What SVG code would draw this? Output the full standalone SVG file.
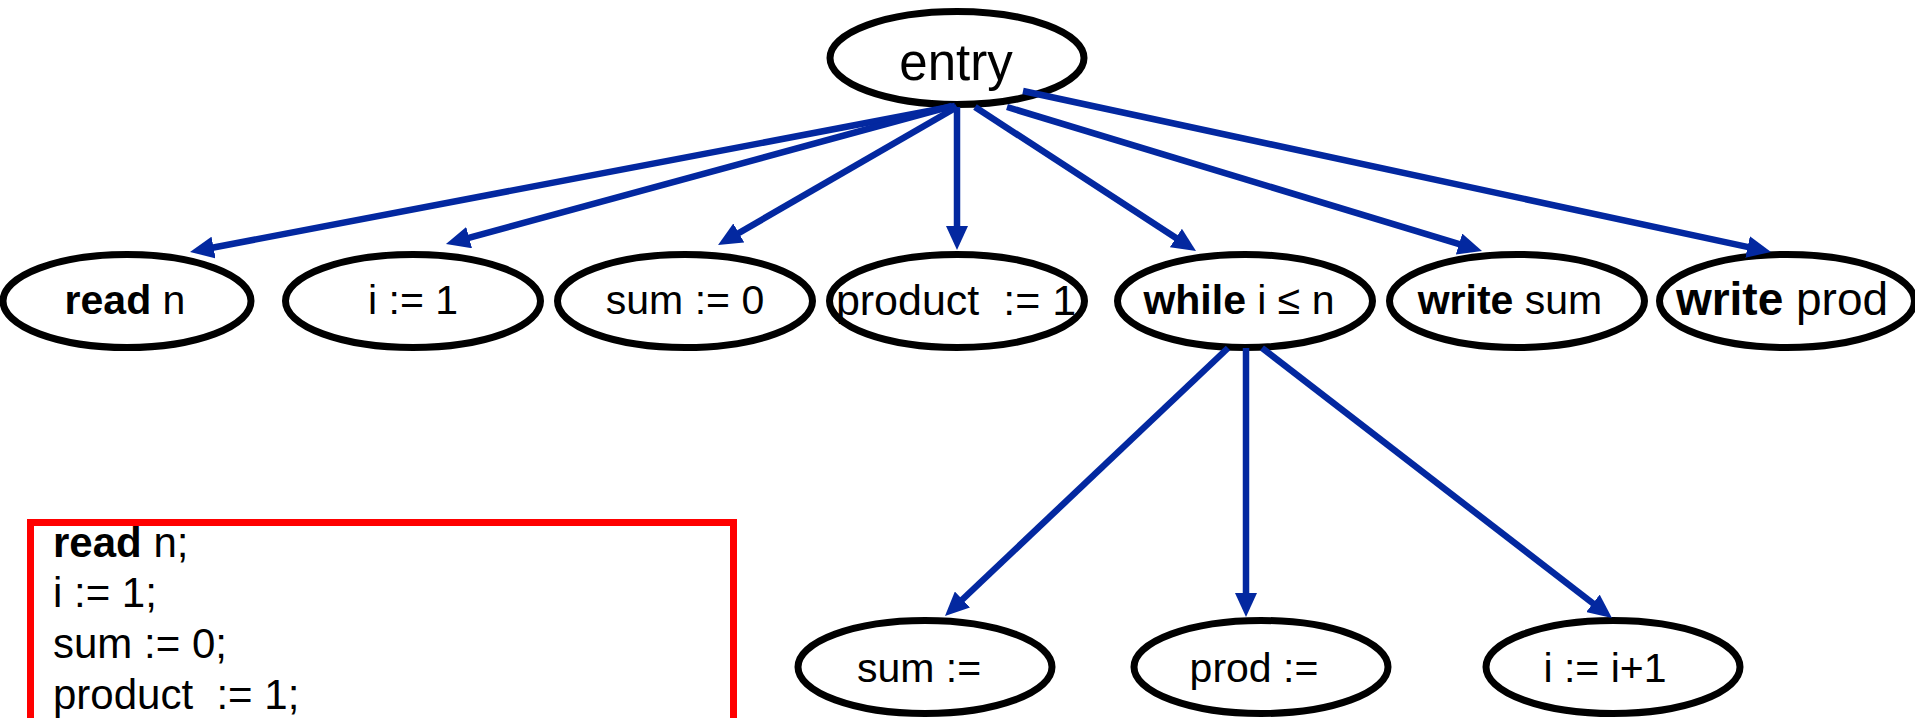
<svg xmlns="http://www.w3.org/2000/svg" width="1915" height="718" viewBox="0 0 1915 718">
  <style>
    .node ellipse { fill: #ffffff; stroke: #000000; stroke-width: 7; }
    .node text { font-family: "Liberation Sans", Arial, sans-serif; font-size: 41px; fill: #000000; text-anchor: middle; }
    .kw { font-weight: bold; }
    .edge { stroke: #0328a0; stroke-width: 6.5; fill: none; marker-end: url(#arrow); }
    .code { font-family: "Liberation Sans", Arial, sans-serif; font-size: 42px; fill: #000000; }
  </style>
  <defs>
    <marker id="arrow" markerUnits="userSpaceOnUse" viewBox="0 0 24 22" markerWidth="24" markerHeight="22" refX="8" refY="11" orient="auto">
      <path d="M0,0 L24,11 L0,22 z" fill="#0328a0"/>
    </marker>
  </defs>
  <rect width="1915" height="718" fill="#ffffff"/>

  <!-- program listing -->
  <g id="code-box">
    <rect x="30.5" y="522.5" width="703" height="230" fill="#ffffff" stroke="#ff0000" stroke-width="7"/>
    <text class="code" x="53" y="557"><tspan class="kw">read</tspan> n;</text>
    <text class="code" x="53" y="607">i := 1;</text>
    <text class="code" x="53" y="658">sum := 0;</text>
    <text class="code" x="53" y="709" xml:space="preserve">product  := 1;</text>
  </g>

  <!-- nodes -->
  <g id="entry" class="node">
    <ellipse cx="957" cy="58" rx="127" ry="46.5"/>
    <text x="956" y="80" style="font-size:51px">entry</text>
  </g>
  <g id="read-n" class="node">
    <ellipse cx="127" cy="301" rx="124" ry="46.5"/>
    <text x="125" y="314"><tspan class="kw">read</tspan> n</text>
  </g>
  <g id="i-init" class="node">
    <ellipse cx="413" cy="301" rx="127.5" ry="46.5"/>
    <text x="413" y="314">i := 1</text>
  </g>
  <g id="sum-init" class="node">
    <ellipse cx="685" cy="301" rx="127.5" ry="46.5"/>
    <text x="685" y="314">sum := 0</text>
  </g>
  <g id="product-init" class="node">
    <ellipse cx="957" cy="301" rx="127.5" ry="46.5"/>
    <text x="956" y="315" style="font-size:43px" xml:space="preserve">product  := 1</text>
  </g>
  <g id="while" class="node">
    <ellipse cx="1245" cy="301" rx="127.5" ry="46.5"/>
    <text x="1239" y="314"><tspan class="kw">while</tspan> i ≤ n</text>
  </g>
  <g id="write-sum" class="node">
    <ellipse cx="1517" cy="301" rx="127.5" ry="46.5"/>
    <text x="1510" y="314"><tspan class="kw">write</tspan> sum</text>
  </g>
  <g id="write-prod" class="node">
    <ellipse cx="1787" cy="301" rx="127.5" ry="46.5"/>
    <text x="1782" y="315" style="font-size:46px"><tspan class="kw">write</tspan> prod</text>
  </g>
  <g id="sum-update" class="node">
    <ellipse cx="925" cy="667" rx="127" ry="46.5"/>
    <text x="919" y="682">sum :=</text>
  </g>
  <g id="prod-update" class="node">
    <ellipse cx="1261" cy="667" rx="127" ry="46.5"/>
    <text x="1254" y="682">prod :=</text>
  </g>
  <g id="i-update" class="node">
    <ellipse cx="1613" cy="667" rx="127" ry="46.5"/>
    <text x="1605" y="682">i := i+1</text>
  </g>

  <!-- control dependence edges -->
  <g id="connectors">
    <line class="edge" x1="955" y1="106" x2="205.7" y2="249"/>
    <line class="edge" x1="952" y1="106" x2="461.4" y2="239.8"/>
    <line class="edge" x1="957" y1="107" x2="731.9" y2="237"/>
    <line class="edge" x1="957" y1="107" x2="957" y2="234"/>
    <line class="edge" x1="975" y1="107" x2="1182.6" y2="242.3"/>
    <line class="edge" x1="1007" y1="107" x2="1466.7" y2="246.4"/>
    <line class="edge" x1="1023" y1="91" x2="1755.4" y2="248.6"/>
    <line class="edge" x1="1228" y1="348" x2="956.6" y2="605"/>
    <line class="edge" x1="1246" y1="348" x2="1246" y2="601"/>
    <line class="edge" x1="1262" y1="348" x2="1599.3" y2="608.2"/>
  </g>
</svg>
